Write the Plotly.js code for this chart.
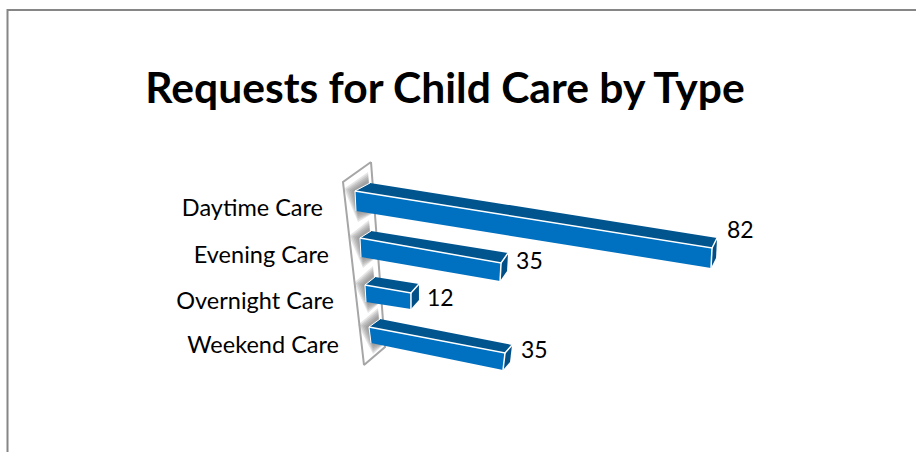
<!DOCTYPE html>
<html>
<head>
<meta charset="utf-8">
<script src="https://cdn.plot.ly/plotly-3.0.1.min.js"></script>
<style>html,body{margin:0;padding:0;background:#fff}#chart{width:916px;height:452px}</style>
</head>
<body>
<div id="chart"></div>
<script>
const categories = ["Daytime Care", "Evening Care", "Overnight Care", "Weekend Care"];
const requests = [82, 35, 12, 35];
const chartTitle = "Requests for Child Care by Type";

// Oblique projection of each row: value -> page position
const frames = [
  {f:[355,191], h:[1,20], d:[15,-8], u:[4.354,0.695], dE:[5,-10], hE:[-1,20], lab:[323,210], val:[15,-16]},
  {f:[360,238], h:[1,19], d:[11,-7], u:[4.03,0.714], dE:[7,-10], hE:[-1,18], lab:[329,257], val:[15,0]},
  {f:[365,285], h:[1,17], d:[10,-8], u:[3.83,0.667], dE:[8,-9], hE:[0,16], lab:[334,303], val:[16,7]},
  {f:[369,327], h:[2,16], d:[11,-8], u:[3.886,0.743], dE:[7,-8], hE:[-2,17], lab:[339,347], val:[16,-1]}
];
const add = (a,b,k=1)=>[a[0]+b[0]*k, a[1]+b[1]*k];
function poly(pts, fill, extra){
  const xs = pts.map(p=>p[0]).concat([pts[0][0]]);
  const ys = pts.map(p=>p[1]).concat([pts[0][1]]);
  return Object.assign({type:'scatter', mode:'lines', x:xs, y:ys, fill:'toself', fillcolor:fill,
    line:{width:0, color:fill}, hoverinfo:'skip', showlegend:false}, extra||{});
}
function edge(pts, color, width){
  return {type:'scatter', mode:'lines', x:pts.map(p=>p[0]), y:pts.map(p=>p[1]),
    line:{color:color, width:width}, hoverinfo:'skip', showlegend:false};
}
const traces = [];
// Wall
const wall = [[371,162],[343,182],[364,365],[385,347]];
traces.push(poly(wall,'#ffffff'));
// Soft shadows on the wall, behind each bar's root
frames.forEach(fr=>{
  const A=fr.f, B=add(fr.f,fr.d), D=add(fr.f,fr.h);
  [11,9,7,5,3].forEach(k=>{
    traces.push(poly([[A[0]-k,A[1]-k*0.2],[B[0]-2,B[1]-k],[B[0]+3,D[1]+k*0.2],[D[0]+2,D[1]+k]],'rgba(100,100,100,0.17)'));
  });
});
traces.push(edge(wall.concat([wall[0]]),'#a6a6a6',2));
// Bars
categories.forEach((c,i)=>{
  const fr=frames[i], v=requests[i];
  const ftl=fr.f, fbl=add(ftl,fr.h), btl=add(ftl,fr.d);
  const ftr=add(ftl,fr.u,v), fbr=add(ftr,fr.hE), btr=add(ftr,fr.dE), bbr=add(btr,fr.hE);
  traces.push(poly([ftl,btl,btr,ftr],'#00558f',{name:c}));
  traces.push(poly([ftl,ftr,fbr,fbl],'#0070c0',{name:c}));
  traces.push(poly([ftr,btr,bbr,fbr],'#004f87',{name:c}));
  traces.push(edge([ftl,ftr,btr],'#ffffff',1.5));
  traces.push(edge([ftr,fbr],'#ffffff',1.5));
  traces.push(edge([fbl,ftl,btl],'#ffffff',1));
});
// Category labels
traces.push({type:'scatter', mode:'text', x:frames.map(f=>f.lab[0]), y:frames.map(f=>f.lab[1]),
  text:categories, textposition:'middle left', textfont:{family:'Lato',size:23.5,color:'#000'},
  hoverinfo:'skip', showlegend:false});
// Value labels
const vx = frames.map((f,i)=>f.f[0]+f.u[0]*requests[i]+f.val[0]);
const vy = frames.map((f,i)=>f.f[1]+f.u[1]*requests[i]+f.val[1]);
traces.push({type:'scatter', mode:'text', x:vx, y:vy, text:requests.map(String),
  textposition:'middle right', textfont:{family:'Lato',size:23,color:'#000'},
  hoverinfo:'skip', showlegend:false});

const layout = {
  width:916, height:452, margin:{l:0,r:0,t:0,b:0},
  paper_bgcolor:'#fff', plot_bgcolor:'#fff', showlegend:false,
  title:{text:'<b>'+chartTitle+'</b>', x:445/916, xanchor:'center', y:1-88/452, yanchor:'middle',
         font:{family:'Lato',size:42.6,color:'#000'}},
  xaxis:{range:[0,916], visible:false, fixedrange:true},
  yaxis:{range:[452,0], visible:false, fixedrange:true},
  shapes:[
    {type:'line',xref:'paper',yref:'paper',x0:7.5/916,x1:1,y0:1-10/452,y1:1-10/452,line:{color:'#868686',width:2}},
    {type:'line',xref:'paper',yref:'paper',x0:7.5/916,x1:7.5/916,y0:1-9/452,y1:0,line:{color:'#868686',width:2}}
  ]
};
Plotly.newPlot('chart',traces,layout,{displayModeBar:false,staticPlot:true});
</script>
</body>
</html>
